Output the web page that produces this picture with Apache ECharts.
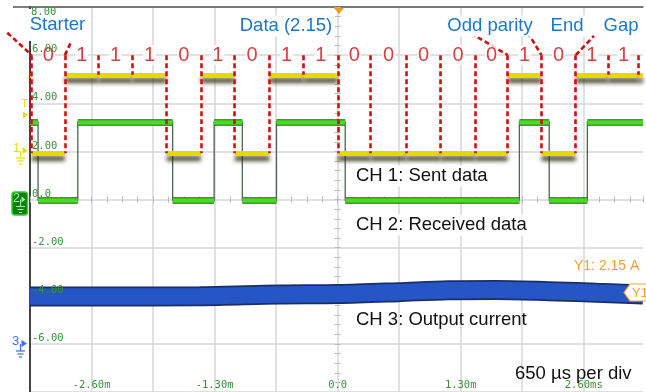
<!DOCTYPE html>
<html><head><meta charset="utf-8">
<script src="https://cdn.jsdelivr.net/npm/echarts@6/dist/echarts.min.js"></script>
<style>html,body{margin:0;padding:0;background:#fff}#c{width:646px;height:392px}</style>
</head><body><div id="c"></div>
<script>
// ---------------- data ----------------
// bit boundaries of the sent frame, ms
const bitBounds = [-3.232,-2.882,-2.524,-2.170,-1.806,-1.445,-1.087,-0.719,-0.358,0.002,0.349,0.727,1.089,1.453,1.797,2.154,2.515,2.858,3.181];
// bits between successive boundaries
const bits = [0,1,1,1,0,1,0,1,1,0,0,0,0,0,1,0,1,1];
const ch1Idle = 1;                 // line state before the starter bit
const ch1Level = [1.92, 5.18];     // CH1 display level [low, high]
// CH2 (received) transition times, ms, and state before / after each edge
const ch2Edges = [-3.165,-2.745,-1.743,-1.305,-1.007,-0.646,0.080,1.920,2.235,2.638];
const ch2States = [1,0,1,0,1,0,1,0,1,0,1];
const ch2Level = [-0.02, 3.22];    // CH2 display level [low, high]
// CH3 (output current) band centre
const ch3Time  = [-3.25,-2.51,-1.46,-0.62,0.01,0.64,1.17,1.69,2.32,2.74,3.226];
const ch3Value = [-4.03,-4.03,-4.02,-3.95,-3.93,-3.85,-3.77,-3.76,-3.82,-3.88,-3.95];
const cursorY1 = -3.86;
const bitLabelLevel = 6.0;
// tick labels
const xTickValues = [-2.6,-1.3,0,1.3,2.6];
const xTickText   = ['-2.60m','-1.30m','0.0','1.30m','2.60ms'];
const yTickValues = [6,4,2,0,-2,-4,-6];
const yTickText   = ['6.00','4.00','2.00','0.0','-2.00','-4.00','-6.00'];

// ---------------- build ----------------
const T0 = -3.25, T1 = 3.226;
const ch1States = [ch1Idle].concat(bits, [bits[bits.length-1]]);
const ch1Times = [T0].concat(bitBounds, [T1]);
const ch1Segs = [];
for (let i = 0; i < ch1Times.length - 1; i++) {
  const L = ch1Level[ch1States[i]];
  ch1Segs.push({coords: [[ch1Times[i], L], [ch1Times[i+1], L]]});
}
const ch2Times = [T0].concat(ch2Edges, [T1]);
const ch2Segs = [];
const ch2Step = [];
for (let i = 0; i < ch2Times.length - 1; i++) {
  const L = ch2Level[ch2States[i]];
  ch2Segs.push({coords: [[ch2Times[i], L], [ch2Times[i+1], L]]});
  ch2Step.push([ch2Times[i], L], [ch2Times[i+1], L]);
}
const boundLines = bitBounds.map((b, i) => {
  const left = ch1States[i], right = ch1States[i+1];
  const L = (left && right) ? ch1Level[1] : ch1Level[0];
  return {coords: [[b, bitLabelLevel], [b, L]]};
});
const digitData = bits.map((b, i) => [(bitBounds[i] + bitBounds[i+1]) / 2, bitLabelLevel, b]);
const ch3Data = ch3Time.map((t, i) => [t, ch3Value[i]]);

// annotation pointer lines (data units)
const pointerLines = [
  [[-3.49, 6.93], [-3.232, 6.0]],
  [[-2.882, 6.0], [-2.752, 7.08]],
  [[1.408, 6.91], [1.797, 6.0]],
  [[2.007, 6.95], [2.154, 6.0]],
  [[2.515, 6.0], [2.708, 6.80]]
].map(c => ({coords: c}));

const fmtX = v => { const k = xTickValues.findIndex(t => Math.abs(t - v) < 1e-6); return k >= 0 ? xTickText[k] : ''; };
const fmtY = v => { const k = yTickValues.findIndex(t => Math.abs(t - v) < 1e-6); return k >= 0 ? yTickText[k] : ''; };

const gridCol = '#d7d7d7', tickCol = '#b8b8b8', lblCol = '#3b8f3b';
const mono = '"DejaVu Sans Mono", monospace';
const sans = '"Liberation Sans", Arial, sans-serif';
const xBase = {type:'value', min:T0, max:T1, interval:0.65, gridIndex:0};
const yBase = {type:'value', min:-8, max:8, interval:2, gridIndex:0};
const off = {show:false};

const tickX = inside => Object.assign({}, xBase, {position:'bottom', axisLine:{show:false, onZero:true},
  axisTick:{show:true, inside:inside, length:3, lineStyle:{color:tickCol, width:1}},
  minorTick:{show:true, splitNumber:4, length:3, lineStyle:{color:tickCol, width:1}},
  splitLine:off, minorSplitLine:off, axisLabel:off});
const tickY = inside => Object.assign({}, yBase, {position:'left', axisLine:{show:false, onZero:true},
  axisTick:{show:true, inside:inside, length:3, lineStyle:{color:tickCol, width:1}},
  minorTick:{show:true, splitNumber:5, length:3, lineStyle:{color:tickCol, width:1}},
  splitLine:off, minorSplitLine:off, axisLabel:off});

const blue = '#1c78c6';
const txt = (text, x, y, opt) => Object.assign({
  type:'text', z:100, style: Object.assign({text, x, y, fill: blue, fontSize:18.5, fontFamily: sans,
    align:'center', textAlign:'center', verticalAlign:'middle', textVerticalAlign:'middle',
    backgroundColor:'#fff', padding:[1,2]}, opt || {})
});
const gline = (x1,y1,x2,y2,c,w) => ({type:'line', z:100, shape:{x1,y1,x2,y2}, style:{stroke:c, lineWidth:w||1.2}});
const ground = (cx, y0, c) => [gline(cx, y0, cx, y0+7, c), gline(cx-4.5, y0+7, cx+4.5, y0+7, c), gline(cx-3, y0+10, cx+3, y0+10, c), gline(cx-1.5, y0+13, cx+1.5, y0+13, c)];

const yel = '#e6df00', grnBright = '#9ff09f', blu3 = '#3a6cff', org = '#f0a030';
const graphics = [
  gline(13, 7, 31, 7, '#555', 1.5),
  txt('Starter', 57, 25, {padding:[9,3,4,4]}),
  txt('Data (2.15)', 286, 26),
  txt('Odd parity', 490, 26),
  txt('End', 567, 26),
  txt('Gap', 621, 26),
  txt('CH 1: Sent data', 354, 176, {fill:'#111', align:'left', textAlign:'left'}),
  txt('CH 2: Received data', 354, 225, {fill:'#111', align:'left', textAlign:'left'}),
  txt('CH 3: Output current', 354, 320, {fill:'#111', align:'left', textAlign:'left', backgroundColor:null}),
  txt('650 µs per div', 515, 374, {fill:'#111', align:'left', textAlign:'left', backgroundColor:null, padding:0}),
  txt('Y1: 2.15 A', 572, 266, {fill:org, fontSize:14, align:'left', textAlign:'left', backgroundColor:null}),
  txt('8.00', 31, 12, {fill:lblCol, fontSize:10.5, fontFamily:mono, align:'left', textAlign:'left', backgroundColor:null, padding:0}),
  // trigger marker at top
  {type:'polygon', z:100, shape:{points:[[334,8],[344,8],[339,14]]}, style:{fill:'#f39a1c'}},
  // Y1 cursor tag
  {type:'polygon', z:100, shape:{points:[[624,292.5],[630,284],[647,284],[647,301],[630,301]]}, style:{fill:'#fff', stroke:org, lineWidth:1.2}},
  txt('Y1', 632, 293, {fill:org, fontSize:13, align:'left', textAlign:'left', backgroundColor:null, padding:0}),
  // T marker
  txt('T', 24.5, 104, {fill:yel, fontSize:11, fontFamily:sans, backgroundColor:null, padding:0}),
  {type:'polygon', z:100, shape:{points:[[23,111.5],[23,118.5],[28,115]]}, style:{fill:yel}},
  // channel 1 marker
  txt('1', 16.5, 148, {fill:yel, fontSize:13, backgroundColor:null, padding:0}),
  {type:'polygon', z:100, shape:{points:[[22.5,147],[22.5,154],[27.5,150.5]]}, style:{fill:yel}},
  ...ground(20.5, 151, yel),
  // channel 2 marker
  {type:'rect', z:99, shape:{x:12, y:192, width:15.5, height:23, r:3}, style:{fill:'#0f7f0f', stroke:'#2fd02f', lineWidth:1.5}},
  txt('2', 16.5, 199, {fill:grnBright, fontSize:12.5, backgroundColor:null, padding:0}),
  {type:'polygon', z:100, shape:{points:[[21.5,196.5],[21.5,202.5],[25.5,199.5]]}, style:{fill:grnBright}},
  ...ground(20.5, 199.5, grnBright).map(g => { g.style.lineWidth = 1; return g; }),
  // channel 3 marker
  txt('3', 15.5, 341, {fill:blu3, fontSize:13, backgroundColor:null, padding:0}),
  {type:'polygon', z:100, shape:{points:[[21.5,340],[21.5,347],[27,343.5]]}, style:{fill:blu3}},
  ...ground(20.5, 344, blu3)
];

const chart = echarts.init(document.getElementById('c'), null, {renderer:'canvas'});
chart.setOption({
  animation:false,
  backgroundColor:'#fff',
  grid:{left:30, right:0, top:7, bottom:0, containLabel:false},
  xAxis:[
    Object.assign({}, xBase, {position:'bottom', axisLine:{show:false, onZero:false}, axisTick:off,
      splitLine:{show:true, showMaxLine:false, lineStyle:{color:gridCol, width:1.5}},
      axisLabel:{inside:true, margin:1, color:lblCol, fontFamily:mono, fontSize:10.5, formatter:fmtX}}),
    tickX(true), tickX(false),
    Object.assign({}, xBase, {position:'top', axisLine:{show:true, onZero:false, lineStyle:{color:'#555', width:1.5}},
      axisTick:off, splitLine:off, axisLabel:off})
  ],
  yAxis:[
    Object.assign({}, yBase, {position:'left', axisLine:{show:true, onZero:false, lineStyle:{color:'#444', width:2}},
      axisTick:off, splitLine:{show:true, lineStyle:{color:gridCol, width:1.5}}, axisLabel:off}),
    tickY(true), tickY(false),
    Object.assign({}, yBase, {position:'left', z:50, axisLine:{show:false, onZero:false}, axisTick:off, splitLine:off,
      axisLabel:{inside:true, margin:2, verticalAlign:'bottom', color:lblCol, fontFamily:mono, fontSize:10.5, formatter:fmtY}})
  ],
  series:[
    {type:'line', name:'CH3 edge', data:ch3Data, showSymbol:false, smooth:0.3, silent:true,
      lineStyle:{color:'#1a2f66', width:20}},
    {type:'line', name:'CH3', data:ch3Data, showSymbol:false, smooth:0.3, silent:true,
      lineStyle:{color:'#2656c6', width:16.5}},
    {type:'lines', name:'Y1 cursor', coordinateSystem:'cartesian2d', silent:true,
      data:[{coords:[[T0, cursorY1],[T1, cursorY1]]}], lineStyle:{color:'#eaa650', width:1.4, type:[4,3], opacity:1}},
    {type:'lines', name:'CH2 step', coordinateSystem:'cartesian2d', polyline:true, silent:true,
      data:[{coords:ch2Step}], lineStyle:{color:'#4d654d', width:1.3, opacity:1}},
    {type:'lines', name:'CH2 dark', coordinateSystem:'cartesian2d', silent:true,
      data:ch2Segs, lineStyle:{color:'#35552a', width:6.5, opacity:1}},
    {type:'lines', name:'CH2', coordinateSystem:'cartesian2d', silent:true,
      data:ch2Segs, lineStyle:{color:'#42e01e', width:4.5, opacity:1}},
    {type:'lines', name:'CH1', coordinateSystem:'cartesian2d', silent:true,
      data:ch1Segs, lineStyle:{color:'#e2da00', width:5, opacity:1,
        shadowColor:'rgba(40,40,8,0.85)', shadowBlur:4, shadowOffsetY:5}},
    {type:'lines', name:'bit bounds', coordinateSystem:'cartesian2d', silent:true,
      data:boundLines, lineStyle:{color:'#cf1010', width:2.6, type:[5,3], opacity:1}},
    {type:'lines', name:'pointers', coordinateSystem:'cartesian2d', silent:true, clip:false,
      data:pointerLines, lineStyle:{color:'#cf1010', width:2.6, type:[5,3], opacity:1}},
    {type:'scatter', name:'bits', data:digitData, symbolSize:1, silent:true, z:6,
      itemStyle:{color:'rgba(0,0,0,0)'},
      label:{show:true, position:'inside', formatter:p => String(p.value[2]), color:'#cc1111',
        fontSize:20, fontFamily:sans, backgroundColor:'#fff', padding:[0,1]}}
  ],
  graphic:graphics
});
</script></body></html>
